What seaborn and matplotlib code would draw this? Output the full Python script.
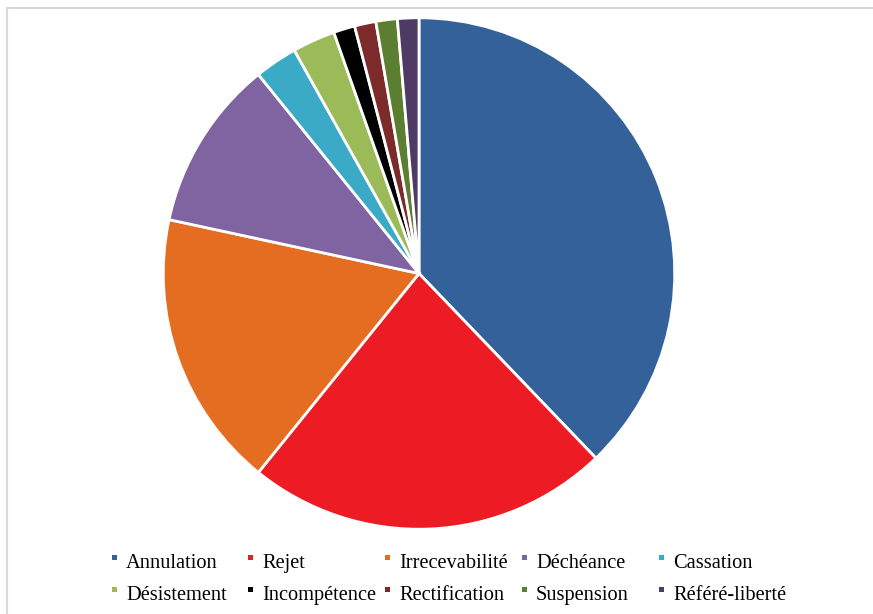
import matplotlib
matplotlib.use("Agg")
import matplotlib.pyplot as plt
from matplotlib.lines import Line2D
from matplotlib.patches import Rectangle
import seaborn as sns

# Decisions by type (counts)
categories = ["Annulation", "Rejet", "Irrecevabilité", "Déchéance", "Cassation",
              "Désistement", "Incompétence", "Rectification", "Suspension", "Référé-liberté"]
counts = [28, 17, 13, 8, 2, 2, 1, 1, 1, 1]
colors = ["#346199", "#ED1C24", "#E56D21", "#8064A2", "#3BAAC7",
          "#9BBB59", "#000000", "#7D2A2A", "#5B7E31", "#4F3A66"]

sns.set_theme(style="white")
plt.rcParams["font.family"] = ["Liberation Serif", "DejaVu Serif"]

W, H = 873, 614
fig = plt.figure(figsize=(W / 100, H / 100), dpi=100)
fig.patch.set_facecolor("white")

# Light frame along the top and left edges
frame_color = "#D9D9D9"
fig.add_artist(Line2D([7 / W, 1.0], [1 - 8 / H, 1 - 8 / H], transform=fig.transFigure,
                      color=frame_color, lw=1.5))
fig.add_artist(Line2D([7 / W, 7 / W], [0.0, 1 - 8 / H], transform=fig.transFigure,
                      color=frame_color, lw=1.5))

# Pie axes: centre (419, 273.5) px, radius 257 px
cx, cy, r = 419, 273.5, 257
ax = fig.add_axes([(cx - r) / W, (H - cy - r) / H, 2 * r / W, 2 * r / H])
palette = sns.color_palette(colors)
ax.pie(counts, colors=palette, startangle=90, counterclock=False, radius=1.0,
       wedgeprops=dict(edgecolor="white", linewidth=2.0))
ax.set_xlim(-1.005, 1.005)
ax.set_ylim(-1.005, 1.005)
ax.set_aspect("equal")
ax.axis("off")

# Legend: two rows of five entries
text_x = [126, 262, 399, 536, 673]
baselines = [568, 600]
for i, (name, col) in enumerate(zip(categories, palette)):
    row, c = divmod(i, 5)
    tx = text_x[c]
    by = baselines[row]
    fig.text(tx / W, 1 - by / H, name, fontsize=14.7, color="#000000",
             ha="left", va="baseline")
    fig.add_artist(Rectangle(((tx - 14) / W, 1 - (by - 8) / H), 5 / W, 5 / H,
                             transform=fig.transFigure, facecolor=col,
                             edgecolor="none"))

fig.savefig("out.png", dpi=100, facecolor="white")
